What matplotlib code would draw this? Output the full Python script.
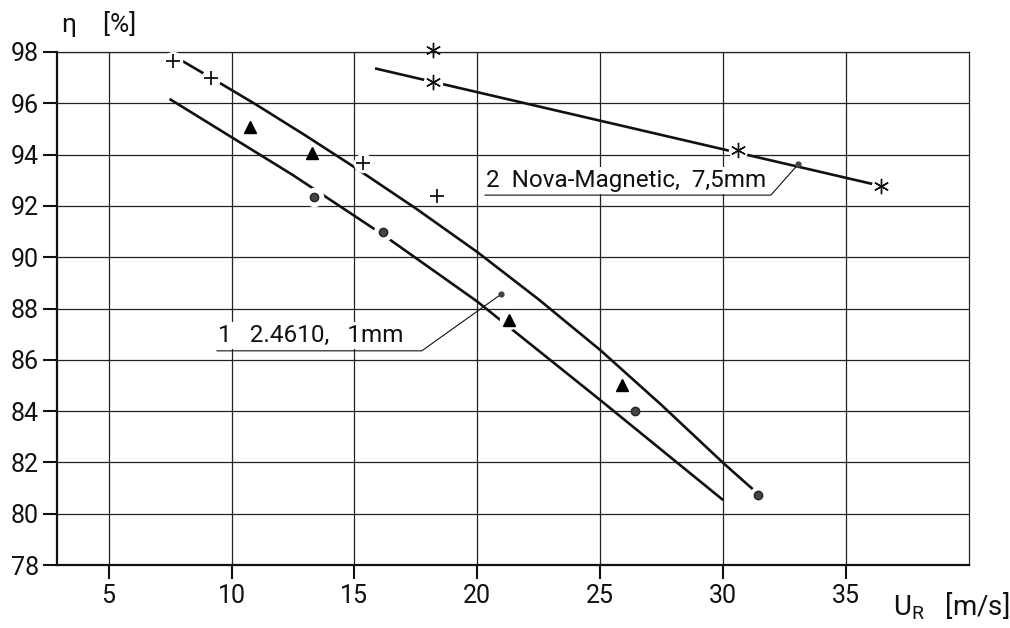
import matplotlib
matplotlib.use("Agg")
import matplotlib.pyplot as plt

# --- data ---
# measured points
plus_x = [7.63, 9.16, 15.35, 18.36]
plus_y = [97.65, 97.0, 93.67, 92.39]
tri_x = [10.76, 13.28, 21.29, 25.88]
tri_y = [95.08, 94.06, 87.55, 85.02]
dot_x = [13.36, 16.17, 26.41, 31.4]
dot_y = [92.35, 90.98, 84.0, 80.73]
star_x = [18.2, 18.2, 30.6, 36.41]
star_y = [98.08, 96.83, 94.18, 92.78]

# fitted curves
upper_x = [8.0, 9.16, 11.0, 13.0, 15.0, 17.5, 20.0, 22.5, 25.0, 27.5, 30.0, 31.2]
upper_y = [97.65, 97.0, 95.95, 94.75, 93.51, 91.9, 90.2, 88.35, 86.38, 84.23, 81.98, 80.96]
lower_x = [7.48, 10.0, 12.5, 16.17, 20.0, 22.5, 25.0, 27.5, 30.0]
lower_y = [96.17, 94.68, 93.2, 90.87, 88.27, 86.35, 84.43, 82.48, 80.53]
nova_x = [15.84, 36.41]
nova_y = [97.36, 92.78]

xticks = [5, 10, 15, 20, 25, 30, 35]
yticks = [78, 80, 82, 84, 86, 88, 90, 92, 94, 96, 98]

label1 = "1   2.4610,   1mm"
label2 = "2  Nova-Magnetic,  7,5mm"

plt.rcParams["font.family"] = ["Roboto", "DejaVu Sans"]
plt.rcParams["mathtext.fontset"] = "custom"
plt.rcParams["mathtext.rm"] = "Roboto"

fig = plt.figure(figsize=(10.1, 6.28), dpi=100)
ax = fig.add_axes([0.0564, 0.1003, 0.903, 0.8169])
ax.set_xlim(2.9, 40)
ax.set_ylim(78, 98)

ink = "#111111"
ax.set_xticks(xticks)
ax.set_yticks(yticks)
ax.grid(True, color="#222222", linewidth=0.9, zorder=0)
ax.set_axisbelow(True)
for s in ["left", "bottom"]:
    ax.spines[s].set_linewidth(1.6)
    ax.spines[s].set_color(ink)
for s in ["top", "right"]:
    ax.spines[s].set_linewidth(0.9)
    ax.spines[s].set_color("#222222")
ax.tick_params(direction="out", length=10, width=1.5, color=ink,
               labelsize=18, labelcolor=ink)
ax.tick_params(axis="y", pad=3)
ax.tick_params(axis="x", pad=4)

# curves
for xs, ys in [(upper_x, upper_y), (lower_x, lower_y), (nova_x, nova_y)]:
    ax.plot(xs, ys, color=ink, linewidth=1.9, zorder=2, solid_capstyle="butt")

# white halos around points sitting on the curves (CAD-style gaps)
halo = dict(marker="o", linestyle="none", color="white", markersize=13, zorder=3)
ax.plot(plus_x[:3], plus_y[:3], **halo)
ax.plot(star_x[1:], star_y[1:], **halo)
ax.plot(dot_x[:2], dot_y[:2], **halo)
ax.plot(tri_x[2:3], tri_y[2:3], **halo)

ax.plot(plus_x, plus_y, "+", color=ink, markersize=10, markeredgewidth=1.3, zorder=4)
ax.plot(star_x, star_y, marker=(6, 2, 0), linestyle="none", color=ink,
        markersize=11, markeredgewidth=1.0, zorder=4, clip_on=False)
ax.plot(tri_x, tri_y, "^", color="black", markersize=9, zorder=4)
ax.plot(dot_x, dot_y, "o", color="#444444", markeredgecolor="#222222",
        markersize=6, zorder=4)

# labels with leader lines
ax.text(9.45, 86.95, label1, fontsize=17.5, color=ink, va="center", ha="left", zorder=5,
        bbox=dict(facecolor="white", edgecolor="none", pad=1.5))
ax.plot([9.41, 17.74, 20.96], [86.35, 86.35, 88.55], color=ink, linewidth=0.8, zorder=6)
ax.plot([20.96], [88.55], "o", color="#444444", markersize=3.5, zorder=6)

ax.text(20.35, 92.98, label2, fontsize=17.5, color=ink, va="center", ha="left", zorder=5,
        bbox=dict(facecolor="white", edgecolor="none", pad=1.5))
ax.plot([20.31, 31.94, 33.05], [92.42, 92.42, 93.62], color=ink, linewidth=0.8, zorder=6)
ax.plot([33.05], [93.62], "o", color="#444444", markersize=3.5, zorder=6)

# axis titles
fig.text(0.061, 0.962, "η    [%]", fontsize=19, color=ink, ha="left", va="center")
fig.text(0.884, 0.035, r"U$_\mathrm{R}$   [m/s]", fontsize=20, color=ink,
         ha="left", va="center")

fig.savefig("out.png", dpi=100)
